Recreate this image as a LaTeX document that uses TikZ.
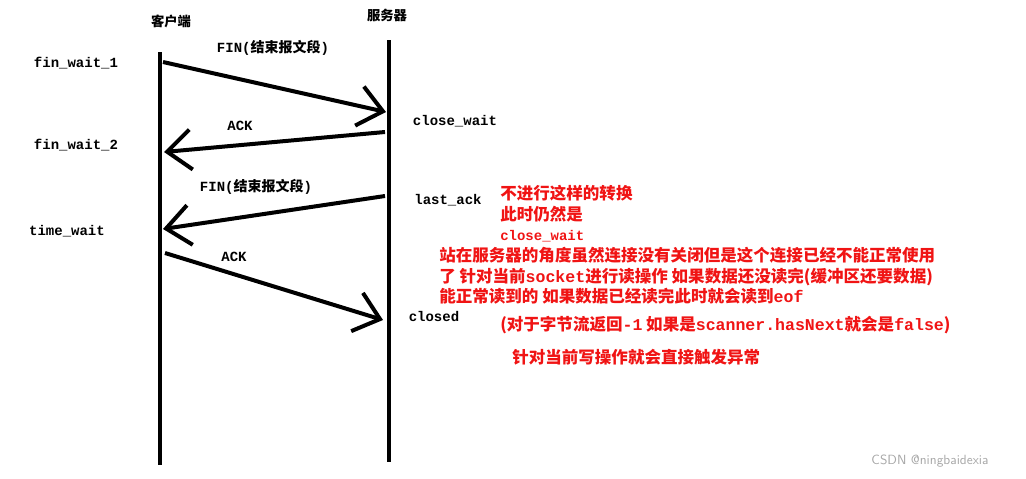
\documentclass[tikz,border=0pt]{standalone}
\usepackage{fontspec}
\setmonofont{Liberation Mono}
\newfontfamily\cjk{Noto Sans CJK SC}
\usetikzlibrary{arrows.meta}
\definecolor{rd}{RGB}{240,20,20}
\begin{document}
\begin{tikzpicture}[x=0.75pt,y=-0.75pt,
  lbl/.style={font=\ttfamily\bfseries\fontsize{10.5}{12}\selectfont,inner sep=0pt},
  cn/.style={font=\cjk\bfseries\fontsize{10}{12}\selectfont,inner sep=0pt},
  red/.style={font=\cjk\bfseries\fontsize{12.4}{15.5}\selectfont,text=rd,inner sep=0pt,anchor=north west,align=left},
  life/.style={line width=3pt},
  msg/.style={line width=3pt,-{Straight Barb[length=18pt,width=30pt,line width=3pt]}}]
\useasboundingbox (0,0) rectangle (1026,479);
\coordinate (c0) at (160,52); \coordinate (c1) at (160,465);
\coordinate (s0) at (389,40); \coordinate (s1) at (389,462);
\draw[life] (c0) -- (c1);
\draw[life] (s0) -- (s1);
\node[cn] (client) at (171,21) {客户端};
\node[cn] (server) at (387,15) {服务器};
\coordinate (a1) at (163,62); \coordinate (b1) at (386,112);
\coordinate (a2) at (385,132); \coordinate (b2) at (164,152);
\coordinate (a3) at (385,196); \coordinate (b3) at (163,229);
\coordinate (a4) at (165,253); \coordinate (b4) at (383,320);
\draw[msg] (a1) -- (b1);
\draw[msg] (a2) -- (b2);
\draw[msg] (a3) -- (b3);
\draw[msg] (a4) -- (b4);
\node[lbl] (fin1) at (273,48) {FIN({\cjk 结束报文段})};
\node[lbl] (ack1) at (240,126) {ACK};
\node[lbl] (fin2) at (256,187) {FIN({\cjk 结束报文段})};
\node[lbl] (ack2) at (234,257) {ACK};
\node[lbl] (fw1) at (76,63) {fin\_wait\_1};
\node[lbl] (fw2) at (76,145) {fin\_wait\_2};
\node[lbl] (tw) at (67,231) {time\_wait};
\node[lbl] (cw) at (455,121) {close\_wait};
\node[lbl] (la) at (448,200) {last\_ack};
\node[lbl] (cl) at (434,316) {closed};
\node[red] (r1) at (500,185) {不进行这样的转换\\此时仍然是\\{\ttfamily\fontsize{10.5}{15.5}\selectfont close\_wait}};
\node[red] (r2) at (439,247) {站在服务器的角度虽然连接没有关闭但是这个连接已经不能正常使用\\了\ 针对当前{\ttfamily socket}进行读操作\ 如果数据还没读完({\cjk 缓冲区还要数据})\\能正常读到的\ 如果数据已经读完此时就会读到{\ttfamily eof}};
\node[red] (r3) at (500,316) {(对于字节流返回{\ttfamily -1} 如果是{\ttfamily scanner.hasNext}就会是{\ttfamily false})};
\node[red] (r4) at (512,349) {针对当前写操作就会直接触发异常};
\node[font=\sffamily\fontsize{10}{12}\selectfont,text=gray!70] (wm) at (930,461) {CSDN @ningbaidexia};
\end{tikzpicture}
\end{document}
